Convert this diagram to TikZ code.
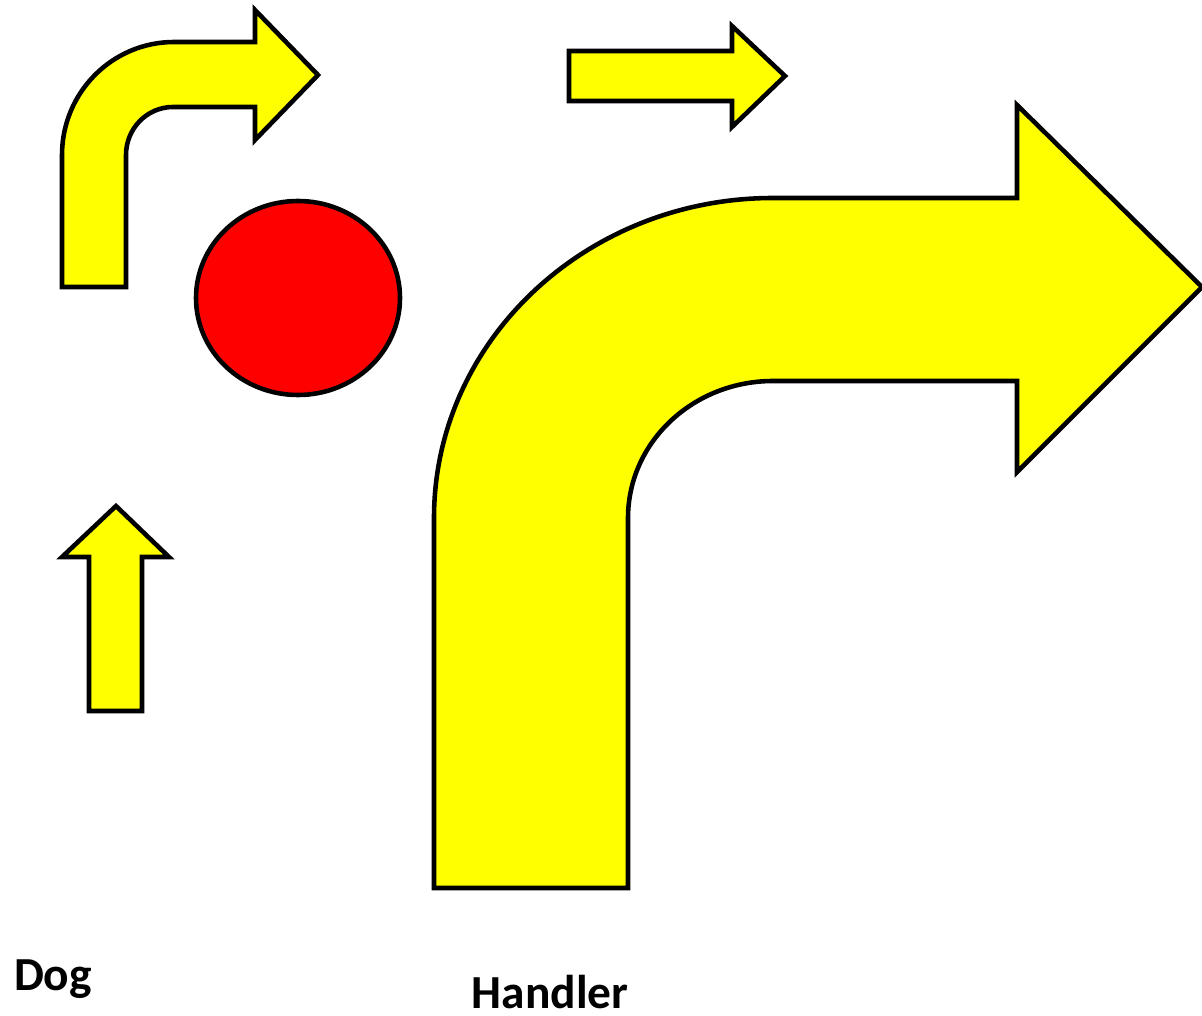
\documentclass[tikz,border=0pt]{standalone}
\usepackage{fontspec}
\setmainfont{Carlito}
\definecolor{arrowyellow}{RGB}{255,255,0}
\definecolor{ballred}{RGB}{255,0,0}
\begin{document}
\begin{tikzpicture}[x=0.02cm,y=-0.02cm,
  arrowshape/.style={draw=black,fill=arrowyellow,line width=2.6pt,line join=miter},
  ball/.style={draw=black,fill=ballred,line width=2.6pt},
  lbl/.style={font=\bfseries\fontsize{27}{31}\selectfont,inner sep=0pt}]
  \useasboundingbox (0,0) rectangle (1202,1016);
  % Small bent arrow, top left
  \draw[arrowshape] (62,287) -- (62,155)
    arc[start angle=180,end angle=270,x radius=112,y radius=113]
    -- (255,42) -- (255,10) -- (318,75) -- (255,140) -- (255,107) -- (173,107)
    arc[start angle=270,end angle=180,x radius=47,y radius=48]
    -- (126,287) -- cycle;
  % Straight arrow, top
  \draw[arrowshape] (569,51) -- (732,51) -- (732,26) -- (785,76)
    -- (732,127) -- (732,101) -- (569,101) -- cycle;
  % Ball
  \draw[ball] (298,298) ellipse[x radius=102,y radius=97];
  % Up arrow
  \draw[arrowshape] (89,711) -- (89,557) -- (62,557) -- (116,506)
    -- (169,557) -- (142,557) -- (142,711) -- cycle;
  % Large bent arrow
  \draw[arrowshape] (434,888) -- (434,518)
    arc[start angle=180,end angle=270,x radius=339,y radius=320]
    -- (1017,198) -- (1017,105) -- (1202,287) -- (1017,472) -- (1017,381) -- (773,381)
    arc[start angle=270,end angle=180,x radius=145,y radius=137]
    -- (628,888) -- cycle;
  % Labels
  \node[lbl] (dog) at (53,979) {Dog};
  \node[lbl] (handler) at (550,992) {Handler};
\end{tikzpicture}
\end{document}
